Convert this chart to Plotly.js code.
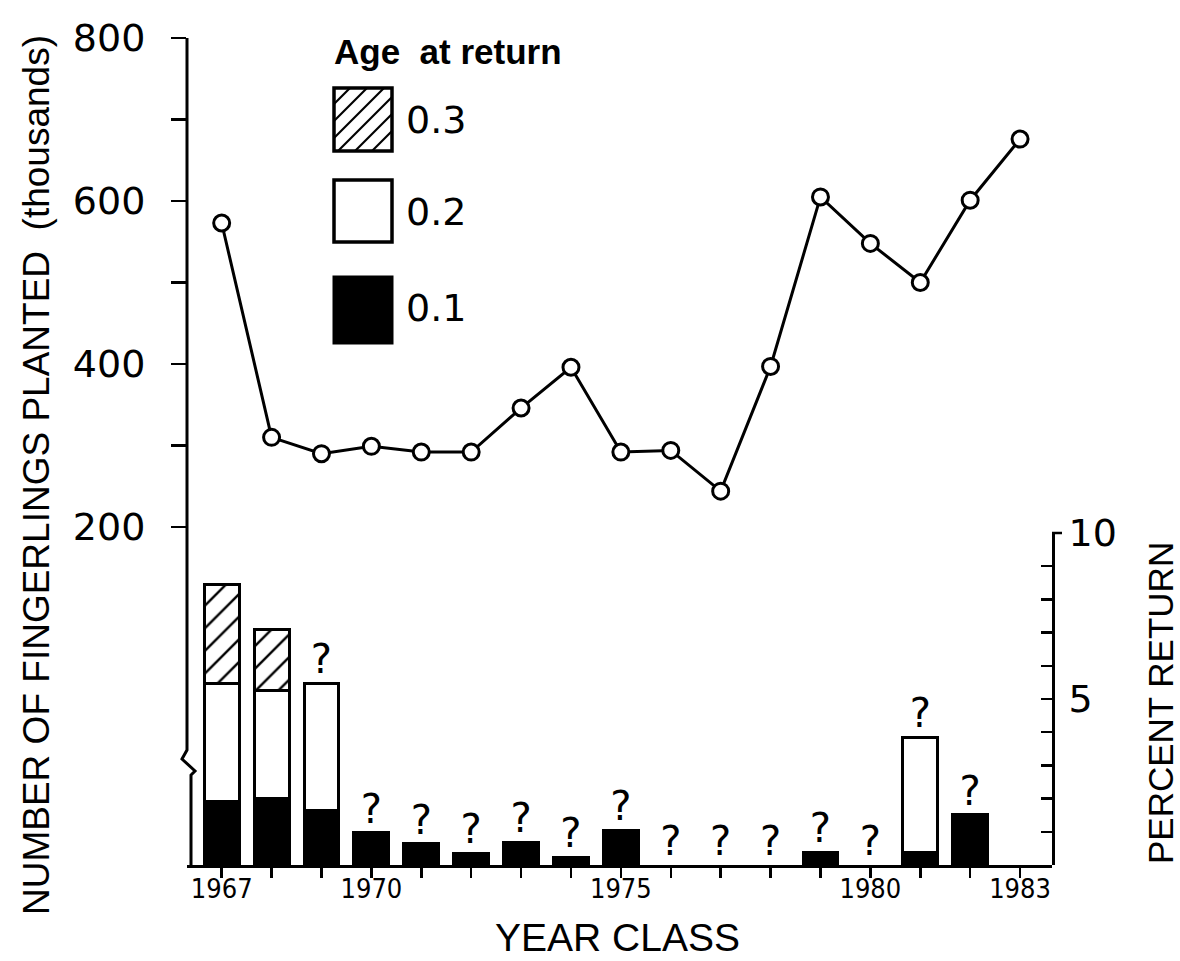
<!DOCTYPE html>
<html>
<head>
<meta charset="utf-8">
<script src="https://cdn.plot.ly/plotly-3.0.1.min.js"></script>
<style>html,body{margin:0;padding:0;background:#fff;}#chart{width:1180px;height:961px;}</style>
</head>
<body>
<div id="chart"></div>
<script>
// ---- data ----
const years = [1967,1968,1969,1970,1971,1972,1973,1974,1975,1976,1977,1978,1979,1980,1981,1982,1983];
const planted = [573,310,290,299,292,292,346,396,292,294,244,397,605,548,500,601,676]; // thousands
const age01 = [1.92,2.00,1.65,0.97,0.64,0.36,0.69,0.23,1.04,null,null,null,0.39,null,0.39,1.52,null]; // percent return
const age02 = [3.56,3.26,3.83,null,null,null,null,null,null,null,null,null,null,null,3.46,null,null];
const age03 = [2.98,1.82,null,null,null,null,null,null,null,null,null,null,null,null,null,null,null];
const questionYears = [1969,1970,1971,1972,1973,1974,1975,1976,1977,1978,1979,1980,1981,1982];
const xTickLabels = {1967:'1967',1970:'1970',1975:'1975',1980:'1980',1983:'1983'};
const leftTicks = [200,300,400,500,600,700,800];
const leftTickText = ['200','','400','','600','','800'];
const rightTicks = [1,2,3,4,5,6,7,8,9,10];
const rightTickText = ['','','','','5','','','','','10'];

// ---- geometry helpers (pixel -> paper) ----
const L = 187, R = 1052, T = 38, B = 865;
const W = R - L, H = B - T;
const px = x => (x - L) / W;
const py = y => (B - y) / H;

const FONT = 'Liberation Sans, Arial, sans-serif';
const NUMF = 'DejaVu Sans, Liberation Sans, sans-serif';
const NARROW = 'Liberation Sans Narrow, DejaVu Sans Condensed, Liberation Sans, sans-serif';

const totals = years.map((y,i) => (age01[i]||0) + (age02[i]||0) + (age03[i]||0));
const qY = questionYears.map(y => totals[years.indexOf(y)]);

const traces = [
  {type:'bar', x:years, y:age01, xaxis:'x', yaxis:'y2', name:'0.1', width:0.70,
   marker:{color:'#000', line:{color:'#000', width:3}}, hoverinfo:'skip'},
  {type:'bar', x:years, y:age02, xaxis:'x', yaxis:'y2', name:'0.2', width:0.70,
   marker:{color:'#fff', line:{color:'#000', width:3}}, hoverinfo:'skip'},
  {type:'bar', x:years, y:age03, xaxis:'x', yaxis:'y2', name:'0.3', width:0.70,
   marker:{color:'#fff', line:{color:'#000', width:3},
           pattern:{shape:'/', fgcolor:'#000', bgcolor:'#fff', size:16, solidity:0.15}}, hoverinfo:'skip'},
  {type:'scatter', mode:'text', x:questionYears, y:qY, xaxis:'x', yaxis:'y2',
   text:questionYears.map(()=> '?'), textposition:'top center', cliponaxis:false,
   textfont:{family:NUMF, size:40, color:'#000'}, hoverinfo:'skip'},
  {type:'scatter', mode:'lines+markers', x:years, y:planted, xaxis:'x', yaxis:'y',
   line:{color:'#000', width:3},
   marker:{symbol:'circle', size:16, color:'#fff', line:{color:'#000', width:3}}, cliponaxis:false}
];

const sq = {x0:334, x1:392};
const legendY = [[88,151],[180,242],[277,343]];
const shapes = [];
// left axis line with break
shapes.push({type:'path', xref:'paper', yref:'paper',
  path:`M ${px(187)},${py(38)} L ${px(187)},${py(750)} L ${px(182)},${py(759)} L ${px(195)},${py(771)} L ${px(191)},${py(775)} L ${px(191)},${py(866)}`,
  line:{color:'#000', width:3}});
// short flange at the top of the right axis
shapes.push({type:'line', xref:'paper', yref:'paper', x0:px(1052), x1:px(1062), y0:py(533), y1:py(533), line:{color:'#000', width:2.5}});
// legend squares
shapes.push({type:'rect', xref:'paper', yref:'paper', x0:px(sq.x0), x1:px(sq.x1), y0:py(legendY[0][1]), y1:py(legendY[0][0]), line:{color:'#000', width:3.5}, fillcolor:'#fff'});
shapes.push({type:'rect', xref:'paper', yref:'paper', x0:px(sq.x0), x1:px(sq.x1), y0:py(legendY[1][1]), y1:py(legendY[1][0]), line:{color:'#000', width:3.5}, fillcolor:'#fff'});
shapes.push({type:'rect', xref:'paper', yref:'paper', x0:px(sq.x0), x1:px(sq.x1), y0:py(legendY[2][1]), y1:py(legendY[2][0]), line:{color:'#000', width:3}, fillcolor:'#000'});
(function(){
  const x0=sq.x0, x1=sq.x1, y0=legendY[0][0], y1=legendY[0][1];
  for (let c = x0 + y0 + 16; c < x1 + y1 - 6; c += 17) {
    let ax = Math.max(x0, c - y1), ay = c - ax;
    let bx = Math.min(x1, c - y0), by = c - bx;
    shapes.push({type:'line', xref:'paper', yref:'paper', x0:px(ax), y0:py(ay), x1:px(bx), y1:py(by), line:{color:'#000', width:2.2}});
  }
})();

const annotations = [
  {xref:'paper', yref:'paper', x:px(332), y:py(52), xanchor:'left', yanchor:'middle', showarrow:false,
   text:'<b>Age  at return</b>', font:{family:FONT, size:35, color:'#000'}},
  {xref:'paper', yref:'paper', x:px(404), y:py(120), xanchor:'left', yanchor:'middle', showarrow:false,
   text:'0.3', font:{family:NUMF, size:38, color:'#000'}},
  {xref:'paper', yref:'paper', x:px(404), y:py(212), xanchor:'left', yanchor:'middle', showarrow:false,
   text:'0.2', font:{family:NUMF, size:38, color:'#000'}},
  {xref:'paper', yref:'paper', x:px(404), y:py(308), xanchor:'left', yanchor:'middle', showarrow:false,
   text:'0.1', font:{family:NUMF, size:38, color:'#000'}},
  {xref:'paper', yref:'paper', x:px(36), y:py(475), xanchor:'center', yanchor:'middle', showarrow:false, textangle:-90,
   text:'NUMBER OF FINGERLINGS PLANTED  (thousands)', font:{family:FONT, size:37, color:'#000'}},
  {xref:'paper', yref:'paper', x:px(617), y:py(937), xanchor:'center', yanchor:'middle', showarrow:false,
   text:'YEAR CLASS', font:{family:FONT, size:39, color:'#000'}, borderpad:0},
  {xref:'paper', yref:'paper', x:px(1160), y:py(703), xanchor:'center', yanchor:'middle', showarrow:false, textangle:-90,
   text:'PERCENT RETURN', font:{family:FONT, size:35, color:'#000'}}
];

const layout = {
  width:1180, height:961,
  margin:{l:L, r:1180-R, t:T, b:961-B, pad:0},
  paper_bgcolor:'#fff', plot_bgcolor:'#fff',
  showlegend:false, barmode:'stack', bargap:0.3,
  xaxis:{range:[1966.305, 1983.64], tickvals:years, ticktext:years.map(y=>xTickLabels[y]||''),
    ticks:'outside', ticklen:10, tickwidth:2.5, tickcolor:'#000', ticklabelstandoff:-12,
    showline:true, linecolor:'#000', linewidth:3, showgrid:false, zeroline:false,
    tickfont:{family:NARROW, size:27, color:'#000'}, anchor:'y'},
  yaxis:{range:[-214.7, 800], tickvals:leftTicks, ticktext:leftTickText,
    ticks:'outside', ticklen:15, tickwidth:2.5, tickcolor:'#000', ticklabelstandoff:18,
    showline:false, showgrid:false, zeroline:false,
    tickfont:{family:NUMF, size:38, color:'#000'}},
  yaxis2:{domain:[0, py(533)], range:[0,10], anchor:'x', side:'right',
    tickvals:rightTicks, ticktext:rightTickText, ticks:'inside', ticklen:11, tickwidth:2.5, tickcolor:'#000',
    showline:true, linecolor:'#000', linewidth:3, showgrid:false, zeroline:false,
    ticklabelstandoff:6, tickfont:{family:NUMF, size:38, color:'#000'}},
  shapes:shapes, annotations:annotations
};

Plotly.newPlot('chart', traces, layout, {displayModeBar:false, staticPlot:true});
</script>
</body>
</html>
